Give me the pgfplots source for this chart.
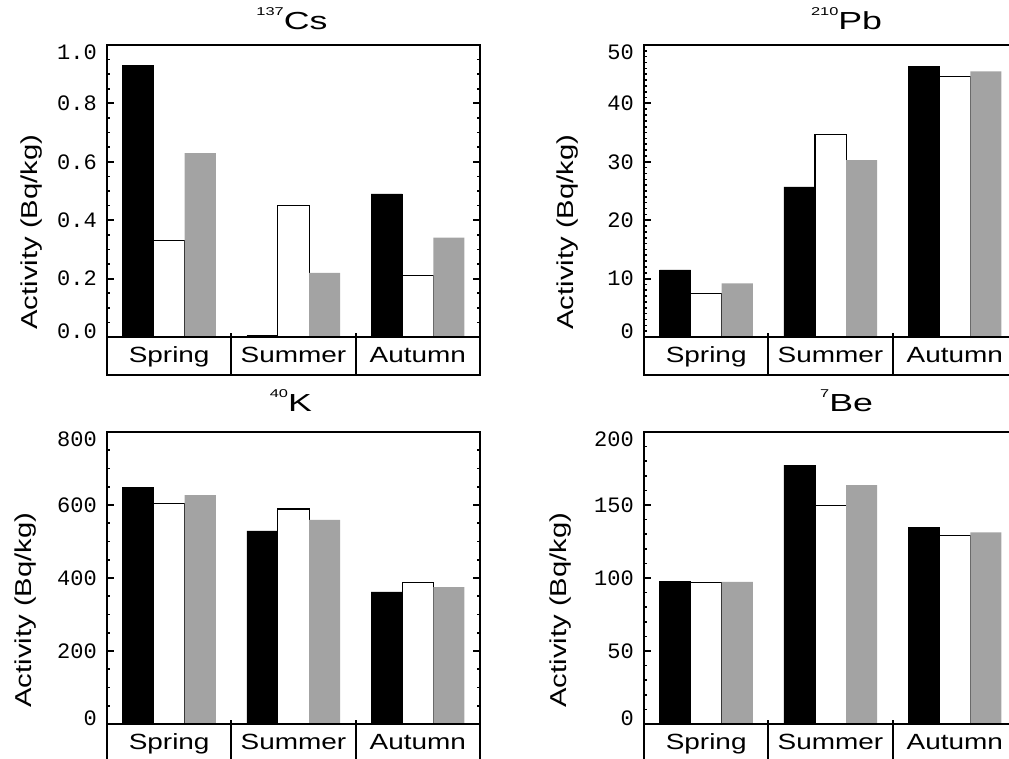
\documentclass[border=0pt]{standalone}
\usepackage{graphicx}
\usepackage{pgfplots}
\pgfplotsset{compat=1.18}
\usepackage{fontspec}
\usetikzlibrary{calc}
\setmainfont{Liberation Sans}
\newfontfamily\labfont[FakeStretch=1.27]{Liberation Sans}
\newfontfamily\numfont{Liberation Mono}

\definecolor{bargray}{gray}{0.64}

% isotope title: small raised mass number, wide element symbol
\newcommand{\iso}[2]{\scalebox{1.14}[1]{\labfont\fontsize{18.5}{18.5}\selectfont
  \raisebox{10.5pt}{\fontsize{8.5}{8.5}\selectfont #1}#2}}
% end tick labels are pulled inside the frame
\newcommand{\tlo}[1]{\raisebox{-5.5pt}[\height][\depth]{#1}}
\newcommand{\thi}[1]{\raisebox{4pt}[\height][\depth]{#1}}

\pgfplotsset{
  panel/.style={
    scale only axis, width=279.75pt, height=247.5pt,
    xmin=-0.5, xmax=2.5,
    axis line style={line width=2.2pt},
    xtick={0,1,2}, xticklabels={Spring,Summer,Autumn},
    xtick style={draw=none},
    xticklabel style={font=\labfont\fontsize{16.5}{16.5}\selectfont, anchor=base, yshift=9.5pt},
    yticklabel style={font=\numfont\fontsize{16.5}{16.5}\selectfont, inner sep=0pt, xshift=-7.5pt},
    tick align=inside,
    major tick length=5.5pt, minor tick length=2.5pt,
    major tick style={black, line width=1.5pt},
    minor tick style={black, line width=1.2pt},
    ylabel={Activity (Bq/kg)},
    ylabel style={font=\labfont\fontsize{17.25}{17.25}\selectfont},
    title style={anchor=base},
  },
  blk/.style={ybar, bar width=0.25, bar shift=-0.25, fill=black, draw=black, line width=0.5pt},
  wht/.style={ybar, bar width=0.25, bar shift=0, fill=white, draw=black, line width=0.8pt},
  gry/.style={ybar, bar width=0.25, bar shift=0.25, fill=bargray, draw=none},
}

% zero line, category separators and top ticks
\newcommand{\deco}[2]{%
  \draw[line width=2.2pt] (axis cs:-0.5,0) -- (axis cs:2.5,0);
  \draw[line width=1.6pt] (axis cs:0.5,#1) -- ([yshift=3pt]axis cs:0.5,0);
  \draw[line width=1.6pt] (axis cs:1.5,#1) -- ([yshift=3pt]axis cs:1.5,0);
  \draw[line width=1.5pt] (axis cs:0.5,#2) -- ++(0,-5.25pt);
  \draw[line width=1.5pt] (axis cs:1.5,#2) -- ++(0,-5.25pt);
}

\begin{document}
\begin{tikzpicture}

% 137Cs
\begin{axis}[panel, at={(80.25pt,-281.25pt)}, anchor=south west,
  ymin=-0.1301, ymax=1.0,
  ytick={0,0.2,...,1.0}, minor ytick={0,0.05,...,1.0},
  yticklabels={\thi{0.0},0.2,0.4,0.6,0.8,\tlo{1.0}},
  title={\iso{137}{Cs}},
  title style={at={(rel axis cs:0.496,1)}, yshift=6pt},
  ylabel style={at={($(rel axis cs:0,0.433)+(-56.25pt,0pt)$)}, anchor=center},
]
\addplot[blk] coordinates {(0,0.93) (1,0.005) (2,0.49)};
\addplot[wht] coordinates {(0,0.33) (1,0.45) (2,0.21)};
\addplot[gry] coordinates {(0,0.63) (1,0.22) (2,0.34)};
\deco{-0.1301}{1.0}
\end{axis}

% 210Pb
\begin{axis}[panel, at={(483pt,-281.25pt)}, anchor=south west,
  ymin=-6.507, ymax=50,
  ytick={0,10,...,50}, minor ytick={0,1,...,50},
  yticklabels={\thi{0},10,20,30,40,\tlo{50}},
  title={\iso{210}{Pb}},
  title style={at={(rel axis cs:0.543,1)}, yshift=6pt},
  ylabel style={at={($(rel axis cs:0,0.433)+(-57pt,0pt)$)}, anchor=center},
]
\addplot[blk] coordinates {(0,11.5) (1,25.7) (2,46.4)};
\addplot[wht] coordinates {(0,7.4) (1,34.6) (2,44.6)};
\addplot[gry] coordinates {(0,9.2) (1,30.3) (2,45.5)};
\deco{-6.507}{50}
\end{axis}

% 40K
\begin{axis}[panel, at={(80.25pt,-571.5pt)}, anchor=south west,
  ymin=-104.1, ymax=800,
  ytick={0,200,...,800}, minor ytick={0,50,...,800},
  yticklabels={\thi{0},200,400,600,\tlo{800}},
  title={\iso{40}{K}},
  title style={at={(rel axis cs:0.493,1)}, yshift=9.4pt},
  ylabel style={at={($(rel axis cs:0,0.46)+(-60.75pt,0pt)$)}, anchor=center},
]
\addplot[blk] coordinates {(0,649) (1,529) (2,362)};
\addplot[wht] coordinates {(0,603) (1,589) (2,388)};
\addplot[gry] coordinates {(0,627) (1,559) (2,375)};
\deco{-104.1}{800}
\end{axis}

% 7Be
\begin{axis}[panel, at={(483pt,-571.5pt)}, anchor=south west,
  ymin=-26.03, ymax=200,
  ytick={0,50,...,200}, minor ytick={0,10,...,200},
  yticklabels={\thi{0},50,100,150,\tlo{200}},
  title={\iso{7}{Be}},
  title style={at={(rel axis cs:0.543,1)}, yshift=9.4pt},
  ylabel style={at={($(rel axis cs:0,0.46)+(-62.25pt,0pt)$)}, anchor=center},
]
\addplot[blk] coordinates {(0,97.9) (1,177.4) (2,134.9)};
\addplot[wht] coordinates {(0,96.8) (1,149.8) (2,129.0)};
\addplot[gry] coordinates {(0,97.3) (1,163.7) (2,131.3)};
\deco{-26.03}{200}
\end{axis}

\pgfresetboundingbox
\path[use as bounding box] (0pt,0pt) rectangle (756.75pt,-568.5pt);
\end{tikzpicture}
\end{document}
